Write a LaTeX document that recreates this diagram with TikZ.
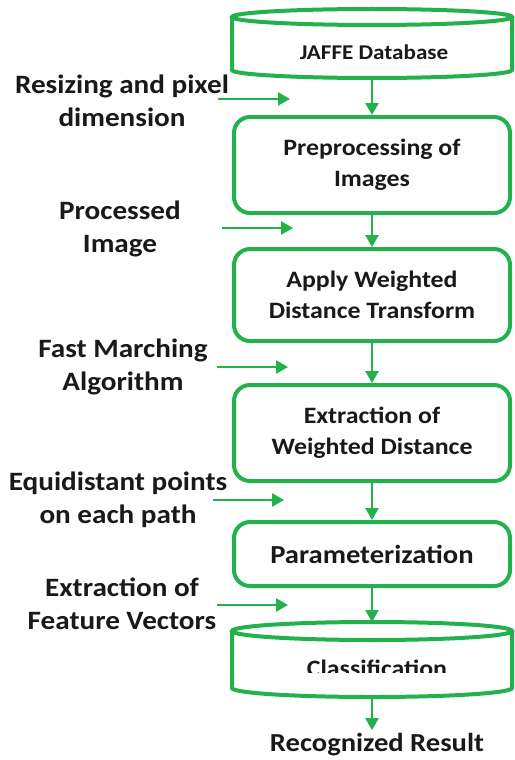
\documentclass[tikz,border=0pt]{standalone}
\usepackage{fontspec}
\setmainfont[FakeStretch=1.1]{Carlito}
\usetikzlibrary{arrows.meta}
\definecolor{fg}{RGB}{34,177,76}
\tikzset{
  flow/.style={draw=fg, line width=4pt, rounded corners=16pt, fill=white, inner sep=0pt},
  lbl/.style={font=\bfseries\fontsize{26.5}{33}\selectfont, align=center, text=black!90},
  boxtxt/.style={font=\bfseries\fontsize{23.5}{31}\selectfont, align=center, text=black!90},
  arr/.style={draw=fg, line width=2.5pt, -{Triangle[length=12pt,width=13pt]}},
  cyl/.style={draw=fg, line width=4pt, fill=white},
}
\begin{document}
\begin{tikzpicture}[x=1pt,y=-1pt]
\useasboundingbox (0,0) rectangle (514,760);
% JAFFE cylinder
\draw[cyl] (232,17) -- (232,70) arc[start angle=180,end angle=0,x radius=140,y radius=8] -- (512,17);
\draw[cyl] (372,17) ellipse[x radius=140,y radius=8];
\node[font=\bfseries\fontsize{21}{24}\selectfont, text=black!90] (db) at (374,52) {JAFFE Database};
\coordinate (dbbot) at (372,78);
% boxes
\node[flow, minimum width=276pt, minimum height=96pt] (pre) at (372,165) {};
\node[boxtxt] at (pre.center) {Preprocessing of\\Images};
\node[flow, minimum width=276pt, minimum height=92pt] (wdt) at (372,295) {};
\node[boxtxt] at (wdt.center) {Apply Weighted\\Distance Transform};
\node[flow, minimum width=276pt, minimum height=96pt] (ext) at (372,433) {};
\node[boxtxt] at (ext.center) {Extraction of\\Weighted Distance};
\node[flow, minimum width=276pt, minimum height=64pt] (par) at (372,554) {};
\node[font=\bfseries\fontsize{26}{30}\selectfont, text=black!90] at (par.center) {Parameterization};
% Classification cylinder
\draw[cyl] (232,631) -- (232,688) arc[start angle=180,end angle=0,x radius=140,y radius=9] -- (512,631);
\draw[cyl] (372,631) ellipse[x radius=140,y radius=9];
\begin{scope}
\clip (232,641) rectangle (512,672);
\node[font=\bfseries\fontsize{23.5}{28}\selectfont, text=black!90] (cls) at (377,668) {Classification};
\end{scope}
\coordinate (cltop) at (372,622);
\coordinate (clbot) at (372,697);
\node[font=\bfseries\fontsize{26}{30}\selectfont, text=black!90] (res) at (377,745) {Recognized Result};
% vertical arrows
\draw[arr] (dbbot) -- (pre.north);
\draw[arr] (pre.south) -- (wdt.north);
\draw[arr] (wdt.south) -- (ext.north);
\draw[arr] (ext.south) -- (par.north);
\draw[arr] (par.south) -- (cltop);
\draw[arr] (clbot) -- (clbot |- res.north);
% left labels
\node[lbl] (l1) at (122,101) {Resizing and pixel\\dimension};
\node[lbl] (l2) at (120,229) {Processed\\Image};
\node[lbl] (l3) at (123,367) {Fast Marching\\Algorithm};
\node[lbl] (l4) at (118,500) {Equidistant points\\on each path};
\node[lbl] (l5) at (122,604) {Extraction of\\Feature Vectors};
\coordinate (a1s) at (218,99); \coordinate (a1e) at (290,99);
\coordinate (a2s) at (222,228); \coordinate (a2e) at (293,228);
\coordinate (a3s) at (217,367); \coordinate (a3e) at (288,367);
\coordinate (a4s) at (213,500); \coordinate (a4e) at (284,500);
\coordinate (a5s) at (217,605); \coordinate (a5e) at (288,605);
\draw[arr] (a1s) -- (a1e);
\draw[arr] (a2s) -- (a2e);
\draw[arr] (a3s) -- (a3e);
\draw[arr] (a4s) -- (a4e);
\draw[arr] (a5s) -- (a5e);
\end{tikzpicture}
\end{document}
